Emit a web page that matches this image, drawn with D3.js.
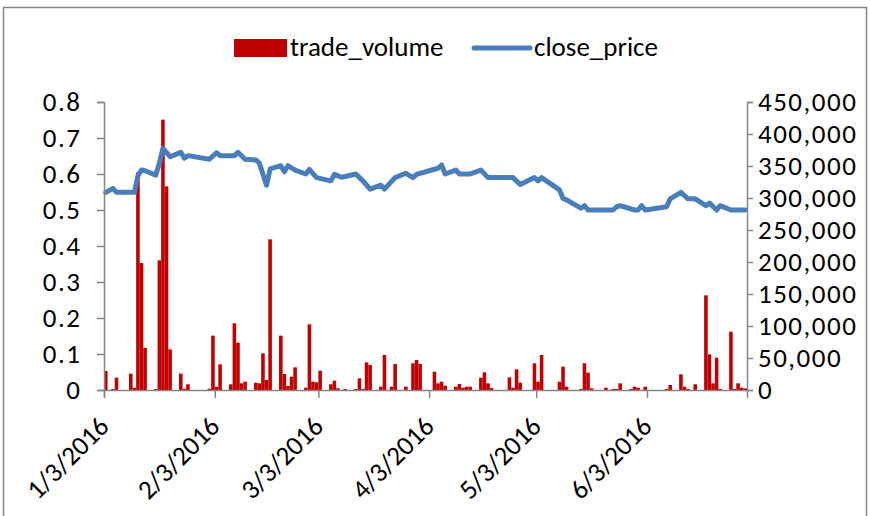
<!DOCTYPE html>
<html>
<head>
<meta charset="utf-8">
<script src="https://cdnjs.cloudflare.com/ajax/libs/d3/7.8.5/d3.min.js"></script>
<style>
body { margin: 0; background: #fff; }
svg text { font-family: Carlito, Calibri, Lato, sans-serif; fill: #000; }
.axis path, .axis line { stroke: #868686; stroke-width: 1.5; }
.yaxis text { letter-spacing: 1.5px; }
</style>
</head>
<body>
<svg id="chart"></svg>
<script>
// trade volume, one entry per day that had a bar
var volumeDates = [
  "2016-01-03","2016-01-05","2016-01-06","2016-01-10","2016-01-11","2016-01-12","2016-01-13","2016-01-14",
  "2016-01-17","2016-01-18","2016-01-19","2016-01-20","2016-01-21","2016-01-24","2016-01-25","2016-01-26",
  "2016-02-01","2016-02-02","2016-02-03","2016-02-04","2016-02-07","2016-02-08","2016-02-09","2016-02-10",
  "2016-02-11","2016-02-14","2016-02-15","2016-02-16","2016-02-17","2016-02-18","2016-02-21","2016-02-22",
  "2016-02-23","2016-02-24","2016-02-25","2016-02-28","2016-02-29","2016-03-01","2016-03-02","2016-03-03",
  "2016-03-06","2016-03-07","2016-03-08","2016-03-10","2016-03-13","2016-03-14","2016-03-15","2016-03-16",
  "2016-03-17","2016-03-20","2016-03-21","2016-03-23","2016-03-24","2016-03-27","2016-03-29","2016-03-30",
  "2016-03-31","2016-04-04","2016-04-05","2016-04-06","2016-04-07","2016-04-10","2016-04-11","2016-04-12",
  "2016-04-13","2016-04-14","2016-04-17","2016-04-18","2016-04-19","2016-04-20","2016-04-25","2016-04-26",
  "2016-04-27","2016-04-28","2016-05-02","2016-05-03","2016-05-04","2016-05-09","2016-05-10","2016-05-11",
  "2016-05-15","2016-05-16","2016-05-17","2016-05-18","2016-05-22","2016-05-24","2016-05-25","2016-05-26",
  "2016-05-29","2016-05-30","2016-05-31","2016-06-02","2016-06-08","2016-06-09","2016-06-12","2016-06-13",
  "2016-06-14","2016-06-16","2016-06-19","2016-06-20","2016-06-21","2016-06-22","2016-06-23","2016-06-26",
  "2016-06-27","2016-06-28","2016-06-29","2016-06-30"
];
var tradeVolume = [
  29700, 1500, 19300, 25500, 3600, 340000, 198400, 65600,
  1500, 202600, 422400, 318200, 63500, 25500, 2000, 8900,
  2000, 84900, 5000, 40100, 8900, 104200, 74000, 10400,
  13000, 11500, 10400, 57300, 15600, 235400, 84900, 25000,
  6300, 20800, 35400, 3600, 102600, 13000, 12000, 30200,
  8900, 14600, 2600, 1600, 1600, 18200, 1600, 43200,
  39000, 5200, 54700, 5200, 40600, 5200, 41700, 46900,
  40600, 28600, 10400, 13000, 6800, 5200, 9400, 3600,
  5200, 5200, 19300, 27600, 10400, 3000, 19800, 3600,
  32300, 11500, 41700, 13000, 54700, 13000, 36500, 5200,
  1600, 41700, 27100, 2600, 3600, 1600, 1600, 10400,
  1600, 5200, 3600, 5200, 1600, 7800, 24500, 5200,
  1600, 8900, 147900, 55700, 10400, 50500, 1600, 91100,
  1600, 10400, 3600, 2600
];

// close price, read at each turn of the line
var priceDates = [
  "2016-01-03","2016-01-05","2016-01-06","2016-01-11","2016-01-12","2016-01-13","2016-01-14","2016-01-17",
  "2016-01-18","2016-01-19","2016-01-21","2016-01-24","2016-01-25","2016-01-26","2016-02-01","2016-02-03",
  "2016-02-04","2016-02-08","2016-02-09","2016-02-11","2016-02-14","2016-02-15","2016-02-17","2016-02-18",
  "2016-02-21","2016-02-22","2016-02-23","2016-02-25","2016-02-28","2016-02-29","2016-03-02","2016-03-06",
  "2016-03-07","2016-03-09","2016-03-10","2016-03-13","2016-03-14","2016-03-15","2016-03-17","2016-03-20",
  "2016-03-21","2016-03-24","2016-03-27","2016-03-29","2016-03-30","2016-04-05","2016-04-06","2016-04-07",
  "2016-04-10","2016-04-11","2016-04-14","2016-04-17","2016-04-19","2016-04-26","2016-04-28","2016-05-02",
  "2016-05-03","2016-05-04","2016-05-09","2016-05-10","2016-05-11","2016-05-15","2016-05-16","2016-05-17",
  "2016-05-24","2016-05-25","2016-05-26","2016-05-30","2016-05-31","2016-06-01","2016-06-02","2016-06-08",
  "2016-06-09","2016-06-12","2016-06-14","2016-06-16","2016-06-19","2016-06-20","2016-06-22","2016-06-23",
  "2016-06-26","2016-06-30"
];
var closePrice = [
  0.549, 0.560, 0.549, 0.549, 0.595, 0.611, 0.609, 0.597,
  0.630, 0.671, 0.648, 0.660, 0.644, 0.651, 0.641, 0.659,
  0.651, 0.651, 0.660, 0.641, 0.639, 0.630, 0.569, 0.614,
  0.623, 0.606, 0.623, 0.611, 0.600, 0.613, 0.590, 0.581,
  0.599, 0.591, 0.593, 0.600, 0.590, 0.581, 0.558, 0.569,
  0.558, 0.590, 0.602, 0.590, 0.599, 0.616, 0.625, 0.600,
  0.611, 0.600, 0.600, 0.611, 0.590, 0.590, 0.571, 0.590,
  0.581, 0.590, 0.556, 0.532, 0.528, 0.505, 0.512, 0.500,
  0.500, 0.509, 0.512, 0.500, 0.500, 0.512, 0.500, 0.509,
  0.531, 0.549, 0.531, 0.531, 0.512, 0.519, 0.500, 0.512,
  0.500, 0.500
];

var dateTicks = ["2016-01-03","2016-02-03","2016-03-03","2016-04-03","2016-05-03","2016-06-03"];
var priceTicks = [0, 0.1, 0.2, 0.3, 0.4, 0.5, 0.6, 0.7, 0.8];
var volumeTicks = [0, 50000, 100000, 150000, 200000, 250000, 300000, 350000, 400000, 450000];

var W = 870, H = 516;
var margin = {top: 102, right: 123, bottom: 126, left: 104};
var width = W - margin.left - margin.right;
var height = H - margin.top - margin.bottom;
var fontSize = "27px";

var parse = d3.timeParse("%Y-%m-%d");
var fmtDate = d3.timeFormat("%-m/%-d/%Y");

var volData = volumeDates.map(function(d, i) { return {date: parse(d), v: tradeVolume[i]}; });
var priceData = priceDates.map(function(d, i) { return {date: parse(d), p: closePrice[i]}; });

var svg = d3.select("#chart").attr("width", W).attr("height", H);

// chart frame
svg.append("rect")
  .attr("x", 3.5).attr("y", 7.5)
  .attr("width", 863).attr("height", 520)
  .attr("fill", "none")
  .attr("stroke", "#868686")
  .attr("stroke-width", 1.5);

var g = svg.append("g")
  .attr("transform", "translate(" + margin.left + "," + margin.top + ")");

var x = d3.scaleTime()
  .domain([parse("2016-01-03"), parse("2016-07-01")])
  .range([0, width]);
var yP = d3.scaleLinear().domain([0, 0.8]).range([height, 0]);
var yV = d3.scaleLinear().domain([0, 450000]).range([height, 0]);

// bars fill the whole day slot
g.selectAll("rect.bar")
  .data(volData)
  .enter().append("rect")
  .attr("class", "bar")
  .attr("x", function(d) { return x(d.date); })
  .attr("width", function(d) { return x(d3.timeDay.offset(d.date, 1)) - x(d.date); })
  .attr("y", function(d) { return yV(d.v); })
  .attr("height", function(d) { return height - yV(d.v); })
  .attr("fill", "#c00000");

var line = d3.line()
  .x(function(d) { return (x(d.date) + x(d3.timeDay.offset(d.date, 1))) / 2; })
  .y(function(d) { return yP(d.p); });

g.append("path")
  .datum(priceData)
  .attr("d", line)
  .attr("fill", "none")
  .attr("stroke", "#4a7ebb")
  .attr("stroke-width", 5)
  .attr("stroke-linejoin", "round")
  .attr("stroke-linecap", "round");

// left axis
g.append("g")
  .attr("class", "axis yaxis")
  .call(d3.axisLeft(yP).tickValues(priceTicks).tickSizeOuter(0).tickSize(7).tickPadding(15.5)
    .tickFormat(function(d) { return d === 0 ? "0" : d3.format(".1f")(d); }))
  .selectAll("text").style("font-size", fontSize);

// right axis
g.append("g")
  .attr("class", "axis yaxis")
  .attr("transform", "translate(" + width + ",0)")
  .call(d3.axisRight(yV).tickValues(volumeTicks).tickSizeOuter(0).tickSize(6).tickPadding(5)
    .tickFormat(d3.format(",")))
  .selectAll("text").style("font-size", fontSize);

// x axis, rotated labels
g.append("g")
  .attr("class", "axis")
  .attr("transform", "translate(0," + height + ")")
  .call(d3.axisBottom(x).tickValues(dateTicks.map(parse)).tickSizeOuter(0).tickSize(8)
    .tickFormat(fmtDate))
  .selectAll("text")
    .attr("y", 0)
    .attr("dy", 0)
    .attr("transform", "translate(6,38) rotate(-45)")
    .style("text-anchor", "end")
    .style("font-size", fontSize);

// legend
var legend = svg.append("g");
legend.append("rect")
  .attr("x", 234).attr("y", 39)
  .attr("width", 53).attr("height", 18)
  .attr("fill", "#c00000");
legend.append("text")
  .attr("x", 290).attr("y", 56)
  .style("font-size", fontSize)
  .text("trade_volume");
legend.append("line")
  .attr("x1", 474).attr("x2", 530)
  .attr("y1", 48).attr("y2", 48)
  .attr("stroke", "#4a7ebb")
  .attr("stroke-width", 5)
  .attr("stroke-linecap", "round");
legend.append("text")
  .attr("x", 534).attr("y", 56)
  .style("font-size", fontSize)
  .text("close_price");
</script>
</body>
</html>
